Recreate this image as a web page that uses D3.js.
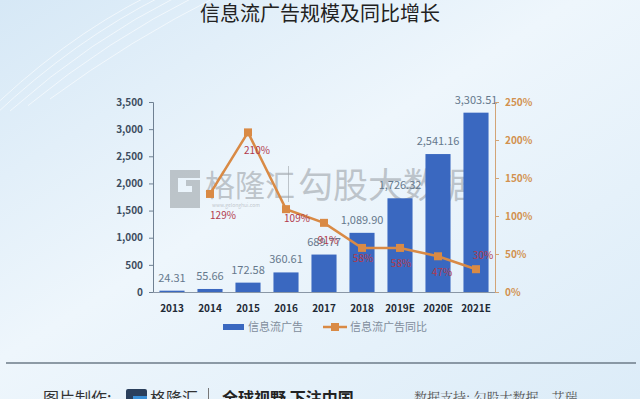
<!DOCTYPE html>
<html>
<head>
<meta charset="utf-8">
<script src="https://cdn.jsdelivr.net/npm/d3@7"></script>
<style>
  html, body { margin: 0; padding: 0; }
  body { width: 640px; height: 399px; overflow: hidden; }
  svg { display: block; font-family: "Noto Sans CJK SC", "Noto Sans", sans-serif; }
</style>
</head>
<body>
<svg id="chart" width="640" height="399"></svg>
<script>
var years = ['2013', '2014', '2015', '2016', '2017', '2018', '2019E', '2020E', '2021E'];
var adScale = [24.31, 55.66, 172.58, 360.61, 689.77, 1089.90, 1726.32, 2541.16, 3303.51];
var yoyGrowth = [null, 129, 210, 109, 91, 58, 58, 47, 30];
var leftTicks = [0, 500, 1000, 1500, 2000, 2500, 3000, 3500];
var rightTicks = [0, 50, 100, 150, 200, 250];
var seriesNames = ['信息流广告', '信息流广告同比'];

var svg = d3.select('#chart'),
    plot = {left: 153, right: 495, top: 102, bottom: 292},
    blue = '#3a68c0',
    orange = '#d98a45',
    fmt = d3.format(',.2f');

// background
var defs = svg.append('defs');
var bg = defs.append('linearGradient').attr('id', 'bg')
    .attr('x1', 0).attr('y1', 0).attr('x2', 1).attr('y2', 1);
bg.append('stop').attr('offset', 0).attr('stop-color', '#d6e8f6');
bg.append('stop').attr('offset', 0.45).attr('stop-color', '#eef6fc');
bg.append('stop').attr('offset', 1).attr('stop-color', '#dcecf8');
svg.append('rect').attr('width', 640).attr('height', 399).attr('fill', 'url(#bg)');

// faint streaks top-left
var streaks = svg.append('g').attr('stroke', '#ffffff').attr('stroke-opacity', 0.6).attr('fill', 'none');
[0, 14, 30, 48, 70].forEach(function(o) {
  streaks.append('path').attr('d', 'M' + (-20 + o) + ',' + (120 - o * 0.3) + ' Q' + (60 + o) + ',40 ' + (150 + o) + ',-5');
});

svg.append('text')
    .attr('x', 320).attr('y', 21)
    .attr('text-anchor', 'middle')
    .attr('font-size', 20)
    .attr('fill', '#222')
    .text('信息流广告规模及同比增长');

var x = d3.scaleBand().domain(years).range([plot.left, plot.right]).paddingInner(0.34).paddingOuter(0.17);
var y = d3.scaleLinear().domain([0, 3500]).range([plot.bottom, plot.top]);
var y2 = d3.scaleLinear().domain([0, 250]).range([plot.bottom, plot.top]);

// watermark
var wm = svg.append('g').attr('fill', '#9da3a9').attr('fill-opacity', 0.6);
wm.append('path').attr('d', 'M170,170 h30 v8 h-22 v14 h14 v-6 h-6 v-6 h14 v28 h-30 z');
wm.append('text').attr('x', 205).attr('y', 196).attr('font-size', 30).text('格隆汇');
wm.append('text').attr('x', 212).attr('y', 207).attr('font-size', 5).text('www.gelonghui.com');
wm.append('rect').attr('x', 288).attr('y', 166).attr('width', 1).attr('height', 36);
wm.append('text').attr('x', 298).attr('y', 198).attr('font-size', 35).text('勾股大数据');

// bars
svg.append('g').selectAll('rect').data(adScale).join('rect')
    .attr('x', function(d, i) { return x(years[i]); })
    .attr('y', function(d) { return y(d); })
    .attr('width', x.bandwidth())
    .attr('height', function(d) { return y(0) - y(d); })
    .attr('fill', blue);

svg.append('g').selectAll('text').data(adScale).join('text')
    .attr('x', function(d, i) { return x(years[i]) + x.bandwidth() / 2; })
    .attr('y', function(d) { return y(d) - 9; })
    .attr('text-anchor', 'middle')
    .attr('font-size', 11)
    .attr('fill', '#65788c')
    .text(function(d) { return fmt(d); });

// axes
var leftAxis = svg.append('g').attr('transform', 'translate(' + plot.left + ',0)')
    .call(d3.axisLeft(y).tickValues(leftTicks).tickFormat(d3.format(',')).tickSize(4).tickPadding(6));
leftAxis.select('.domain').attr('stroke', '#6f8092');
leftAxis.selectAll('.tick line').attr('stroke', '#6f8092');
leftAxis.selectAll('.tick text').attr('font-size', 10).attr('font-weight', 'bold').attr('fill', '#3d4d5f')
    .attr('font-family', '"Noto Sans CJK SC", sans-serif');

var rightAxis = svg.append('g').attr('transform', 'translate(' + plot.right + ',0)')
    .call(d3.axisRight(y2).tickValues(rightTicks).tickFormat(function(d) { return d + '%'; }).tickSize(4).tickPadding(6));
rightAxis.select('.domain').attr('stroke', '#d3a476');
rightAxis.selectAll('.tick line').attr('stroke', '#d3a476');
rightAxis.selectAll('.tick text').attr('font-size', 10).attr('font-weight', 'bold').attr('fill', '#d2914f')
    .attr('font-family', '"Noto Sans CJK SC", sans-serif');

svg.append('line').attr('x1', plot.left).attr('x2', plot.right)
    .attr('y1', plot.bottom + 0.5).attr('y2', plot.bottom + 0.5).attr('stroke', '#8a97a6');

svg.append('g').selectAll('text').data(years).join('text')
    .attr('x', function(d) { return x(d) + x.bandwidth() / 2; })
    .attr('y', 312)
    .attr('text-anchor', 'middle')
    .attr('font-size', 10)
    .attr('font-weight', 'bold')
    .attr('fill', '#1f2a36')
    .text(function(d) { return d; });

// growth line
var pts = yoyGrowth.map(function(v, i) { return {year: years[i], v: v}; })
    .filter(function(d) { return d.v !== null; });
var cx = function(d) { return x(d.year) + x.bandwidth() / 2; };

svg.append('path').datum(pts)
    .attr('fill', 'none').attr('stroke', orange).attr('stroke-width', 2.5)
    .attr('d', d3.line().x(cx).y(function(d) { return y2(d.v); }));

svg.append('g').selectAll('rect').data(pts).join('rect')
    .attr('x', function(d) { return cx(d) - 4; })
    .attr('y', function(d) { return y2(d.v) - 4; })
    .attr('width', 8).attr('height', 8)
    .attr('fill', orange);

var labelOffset = {'2014': [13, 25], '2015': [9, 22], '2016': [11, 13], '2017': [4, 21],
                   '2018': [1, 14], '2019E': [1, 19], '2020E': [4, 20], '2021E': [7, -10]};
svg.append('g').selectAll('text').data(pts).join('text')
    .attr('x', function(d) { return cx(d) + labelOffset[d.year][0]; })
    .attr('y', function(d) { return y2(d.v) + labelOffset[d.year][1]; })
    .attr('text-anchor', 'middle')
    .attr('font-size', 10)
    .attr('fill', '#b23a4c')
    .text(function(d) { return d.v + '%'; });

// legend
var lg = svg.append('g').attr('font-size', 11).attr('fill', '#7f8d9c');
lg.append('rect').attr('x', 223).attr('y', 324).attr('width', 21).attr('height', 6).attr('fill', blue);
lg.append('text').attr('x', 248).attr('y', 331).text(seriesNames[0]);
lg.append('line').attr('x1', 323).attr('x2', 347).attr('y1', 327).attr('y2', 327)
    .attr('stroke', orange).attr('stroke-width', 2.5);
lg.append('rect').attr('x', 331).attr('y', 323).attr('width', 8).attr('height', 8).attr('fill', orange);
lg.append('text').attr('x', 350).attr('y', 331).text(seriesNames[1]);

// footer
svg.append('line').attr('x1', 6).attr('x2', 636).attr('y1', 363).attr('y2', 363)
    .attr('stroke', '#6c7b88').attr('stroke-width', 1.5);
var ft = svg.append('g');
ft.append('text').attr('x', 43).attr('y', 404).attr('font-size', 16).attr('fill', '#333').text('图片制作:');
ft.append('rect').attr('x', 126).attr('y', 389).attr('width', 21).attr('height', 20).attr('rx', 2).attr('fill', '#2a3f5c');
ft.append('rect').attr('x', 133).attr('y', 396).attr('width', 14).attr('height', 6).attr('fill', '#3b8fd6');
ft.append('text').attr('x', 150).attr('y', 404).attr('font-size', 16).attr('fill', '#333').text('格隆汇');
ft.append('rect').attr('x', 208).attr('y', 388).attr('width', 1).attr('height', 14).attr('fill', '#777');
ft.append('text').attr('x', 222).attr('y', 404).attr('font-size', 16).attr('font-weight', 'bold').attr('fill', '#222').text('全球视野 下注中国');
ft.append('text').attr('x', 414).attr('y', 402).attr('font-size', 13).attr('fill', '#555')
    .attr('font-family', '"Noto Serif CJK SC", "Noto Sans CJK SC", serif').text('数据支持: 勾股大数据、艾瑞');
</script>
</body>
</html>
